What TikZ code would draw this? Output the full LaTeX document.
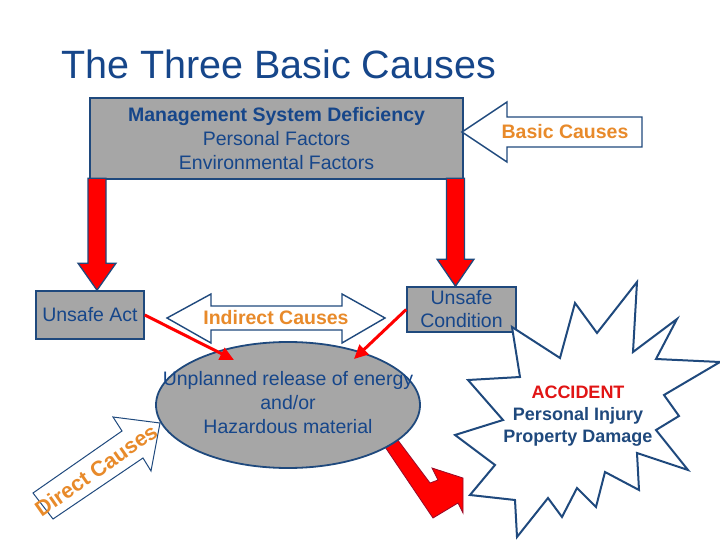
\documentclass[tikz,border=0pt]{standalone}
\usepackage{fontspec}
\setmainfont{Liberation Sans}
\usetikzlibrary{shapes.geometric,arrows.meta,positioning}

\definecolor{navy}{RGB}{31,73,125}
\definecolor{textblue}{RGB}{22,70,138}
\definecolor{boxgray}{RGB}{166,166,166}
\definecolor{causeorange}{RGB}{232,138,42}
\definecolor{alarmred}{RGB}{225,20,20}
\definecolor{maroon}{RGB}{150,10,40}

\begin{document}
\begin{tikzpicture}[
    x=1pt, y=-1pt,
    causebox/.style={rectangle, draw=navy, line width=1.6pt, fill=boxgray, text=textblue, font=\fontsize{19.5}{23}\selectfont, align=center, inner sep=0pt},
    blockarrow/.style={draw=navy, line width=1.4pt, fill=white, line join=miter},
    causetext/.style={text=causeorange, font=\fontsize{19.5}{23}\selectfont\bfseries, inner sep=0pt},
    bigred/.style={draw=navy, line width=1.3pt, fill=red, line join=miter},
    redlink/.style={red, line width=3pt, -{Triangle[length=14pt,width=13pt]}},
    burst/.style={draw=navy, line width=2pt, fill=white, line join=miter}
]
\useasboundingbox (0,0) rectangle (720,540);

% --- Title ---
\node[anchor=base west, inner sep=0pt, text=textblue, font=\fontsize{39.5}{44}\selectfont] (title) at (61,79) {The Three Basic Causes};

% --- Basic causes ---
\node[causebox, minimum width=373pt, minimum height=81pt, font=\fontsize{19.5}{24}\selectfont] (mgmt) at (276.5,138.5)
    {{\bfseries Management System Deficiency}\\Personal Factors\\Environmental Factors};
\draw[blockarrow] (462,132) -- (507,102) -- (507,117) -- (642,117) -- (642,147) -- (507,147) -- (507,162) -- cycle;
\node[causetext] (basic) at (565,132) {Basic Causes};

% --- Unsafe act / condition ---
\node[causebox, minimum width=108pt, minimum height=48pt] (act) at (90,315) {Unsafe Act};
\node[causebox, minimum width=109pt, minimum height=45pt] (cond) at (461.5,309.5) {Unsafe\\Condition};

\coordinate (tipA) at ([xshift=7pt]act.north);
\coordinate (tipB) at ([xshift=-6pt]cond.north);
\draw[bigred] (tipA) -- ++(-19,-27) -- ++(10,0) -- ++(0,-85) -- ++(18,0) -- ++(0,85) -- ++(10,0) -- cycle;
\draw[bigred] (tipB) -- ++(-18.5,-27) -- ++(9.5,0) -- ++(0,-81) -- ++(18,0) -- ++(0,81) -- ++(9.5,0) -- cycle;

% --- Indirect causes ---
\draw[blockarrow] (167,318) -- (211,294) -- (211,306) -- (342,306) -- (342,294) -- (385,318)
    -- (342,343) -- (342,330) -- (211,330) -- (211,343) -- cycle;
\node[causetext] (indirect) at (276,318) {Indirect Causes};

% --- Release of energy ---
\draw[fill=red, draw=maroon, line width=0.8pt] (379,438) -- (391,431) -- (430,483) -- (438,480) -- (432,468)
    -- (463,478) -- (463,513) -- (458,503) -- (433,518) -- cycle;
\node[ellipse, draw=navy, line width=1.8pt, fill=boxgray, minimum width=264pt, minimum height=126pt, inner sep=0pt] (rel) at (288,405) {};
\node[text=textblue, font=\fontsize{19.5}{24}\selectfont, align=center, inner sep=0pt] (reltext) at (288,403)
    {Unplanned release of energy\\and/or\\Hazardous material};

\coordinate (hitL) at (234,360);
\coordinate (hitR) at (354,359);
\foreach \from/\to in {act.east/hitL, cond.west/hitR}
    \draw[redlink] (\from) -- (\to);

% --- Direct causes ---
\draw[navy, line width=1pt, fill=white, line join=miter] (33,493) -- (122,431) -- (113,417) -- (160,423)
    -- (151,471) -- (143,458) -- (53,519) -- cycle;
\node[causetext, font=\fontsize{21.5}{24}\selectfont\bfseries, rotate=35] (direct) at (96,470) {Direct Causes};

% --- Accident ---
\draw[burst] (512,327) -- (560,358) -- (575,303) -- (597,333) -- (637,282) -- (633,352) -- (677,319)
    -- (656,359) -- (720,362) -- (664,395) -- (679,416) -- (656,430) -- (688,470) -- (637,453)
    -- (639,490) -- (605,472) -- (596,507) -- (577,488) -- (562,517) -- (548,498) -- (517,537)
    -- (515,500) -- (470,495) -- (495,465) -- (455,435) -- (503,420) -- (468,380) -- (520,377) -- cycle;
\node[text=navy, font=\fontsize{18}{22}\selectfont\bfseries, align=center, inner sep=0pt] (acc) at (578,416)
    {\textcolor{alarmred}{ACCIDENT}\\Personal Injury\\Property Damage};

\end{tikzpicture}
\end{document}
